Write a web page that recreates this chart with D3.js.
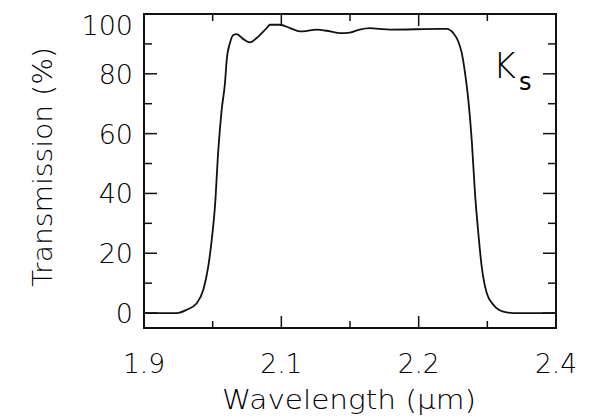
<!DOCTYPE html>
<html>
<head>
<meta charset="utf-8">
<script src="https://cdn.jsdelivr.net/npm/d3@7"></script>
<style>
  html, body { margin: 0; padding: 0; background: #fff; }
  svg { display: block; }
  text { font-family: "DejaVu Sans", sans-serif; font-weight: 200; fill: #000; }
</style>
</head>
<body>
<svg id="chart" width="592" height="419"></svg>
<script>
// ---- data ----
const wavelength = [1.90, 1.9397, 1.9518, 1.9640, 1.9720, 1.9780, 1.9822, 1.9862, 1.9902, 1.9943,
  1.9983, 2.0004, 2.0044, 2.0084, 2.0125, 2.0205, 2.0286, 2.0368, 2.0489, 2.0529, 2.0650,
  2.0772, 2.0893, 2.0930, 2.1096, 2.1257, 2.1379, 2.1500, 2.1617, 2.1743, 2.1864, 2.1985,
  2.2592, 2.2673, 2.2754, 2.2814, 2.2856, 2.2896, 2.2936, 2.2977, 2.3017, 2.3057, 2.3098,
  2.3159, 2.3239, 2.3360, 2.3482, 2.40];
const transmission = [0, 0, 1.1, 3.3, 7.8, 15.6, 24.5, 36, 54.6, 68,
  77, 84.7, 90.4, 93, 93.3, 91.6, 90.5, 92, 95.3, 96.4, 96.4,
  95.3, 94.2, 94.2, 94.8, 94.2, 93.6, 93.8, 94.8, 95.3, 95, 94.8,
  95, 95, 93.6, 90.8, 87, 80.3, 71.3, 58, 40, 26.8, 15.6,
  6.7, 2.8, 0.5, 0, 0];
const xDomain = [1.9, 2.4];
const yDomain = [-5, 100];
const xTickValues = [0, 1, 2, 3, 4, 5, 6].map(i => 1.9 + i * 0.5 / 6);
const xLabelIndex = [0, 2, 4, 6];
const yTickValues = [0, 10, 20, 30, 40, 50, 60, 70, 80, 90, 100];
const yLabelValues = [0, 20, 40, 60, 80, 100];
const xTitle = "Wavelength (\u03BCm)";
const yTitle = "Transmission (%)";

// ---- layout ----
const svg = d3.select("#chart");
const L = 144, R = 556, T = 14, B = 328;
const x = d3.scaleLinear().domain(xDomain).range([L, R]);
const y = d3.scaleLinear().domain(yDomain).range([B, T]);

const g = svg.append("g");

// ticks
const tickColor = "#111";
xTickValues.forEach((v, i) => {
  const major = xLabelIndex.includes(i);
  const len = major ? 12 : 7;
  g.append("line").attr("x1", x(v)).attr("x2", x(v)).attr("y1", B).attr("y2", B - len)
    .attr("stroke", tickColor).attr("stroke-width", 1.5);
  g.append("line").attr("x1", x(v)).attr("x2", x(v)).attr("y1", T).attr("y2", T + len)
    .attr("stroke", tickColor).attr("stroke-width", 1.5);
});
yTickValues.forEach(v => {
  const major = v % 20 === 0;
  const len = major ? 13 : 8;
  g.append("line").attr("x1", L).attr("x2", L + len).attr("y1", y(v)).attr("y2", y(v))
    .attr("stroke", tickColor).attr("stroke-width", 1.5);
  g.append("line").attr("x1", R).attr("x2", R - len).attr("y1", y(v)).attr("y2", y(v))
    .attr("stroke", tickColor).attr("stroke-width", 1.5);
});

// frame
g.append("rect").attr("x", L).attr("y", T).attr("width", R - L).attr("height", B - T)
  .attr("fill", "none").attr("stroke", "#111").attr("stroke-width", 2);

// x labels
const fmt = d3.format(".1f");
xLabelIndex.forEach(i => {
  const v = xTickValues[i];
  g.append("text").attr("x", x(v)).attr("y", 373).attr("text-anchor", "middle")
    .attr("font-size", 27).attr("textLength", 42).attr("lengthAdjust", "spacingAndGlyphs")
    .text(fmt(v));
});

// y labels
yLabelValues.forEach(v => {
  const s = String(v);
  const yy = Math.max(y(v), 25) + 10;
  g.append("text").attr("x", 133).attr("y", yy).attr("text-anchor", "end")
    .attr("font-size", 27).text(s);
});

// axis titles
g.append("text").attr("x", 349).attr("y", 409).attr("text-anchor", "middle")
  .attr("font-size", 26).attr("textLength", 254).attr("lengthAdjust", "spacingAndGlyphs")
  .text(xTitle);
g.append("text").attr("transform", "translate(52,167) rotate(-90)").attr("text-anchor", "middle")
  .attr("font-size", 26).attr("textLength", 240).attr("lengthAdjust", "spacingAndGlyphs")
  .text(yTitle);

// K_s annotation
const ks = g.append("text").attr("x", 493).attr("y", 78);
ks.append("tspan").attr("font-size", 35).text("K");
ks.append("tspan").attr("font-size", 24).attr("dy", 12).attr("dx", 3)
  .style("font-weight", 400).text("s");

// curve
const line = d3.line()
  .x((d, i) => x(wavelength[i]))
  .y((d, i) => y(transmission[i]))
  .curve(d3.curveMonotoneX);
g.append("path").datum(transmission).attr("d", line)
  .attr("fill", "none").attr("stroke", "#111").attr("stroke-width", 1.8);
</script>
</body>
</html>
